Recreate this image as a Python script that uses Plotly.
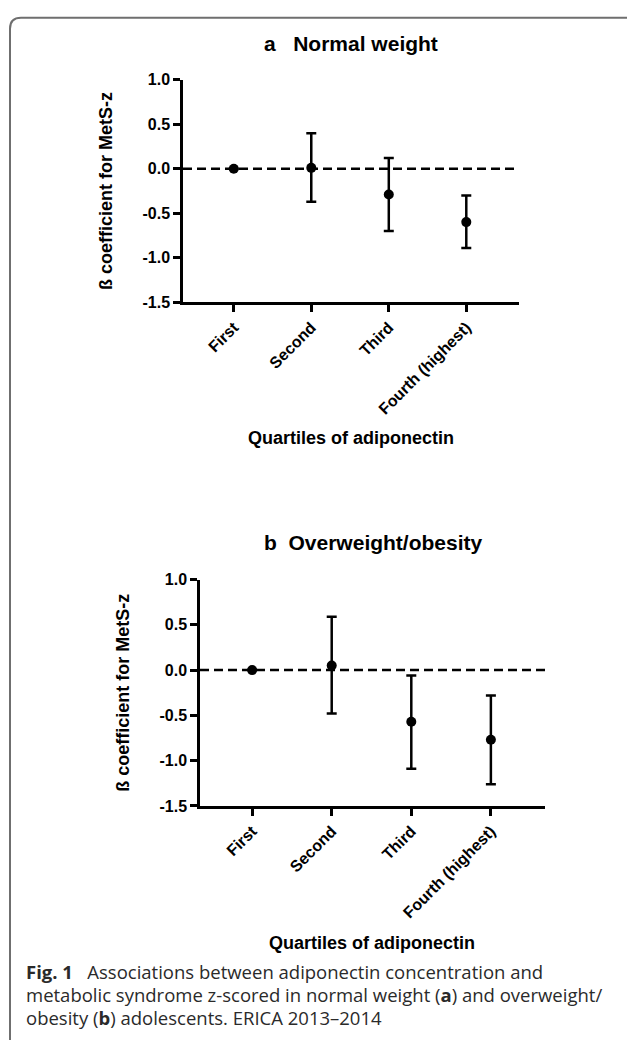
import plotly.graph_objects as go

# ---------------- data ----------------
quartiles = ["First", "Second", "Third", "Fourth (highest)"]

# panel a: normal weight
beta_a = [0.0, 0.01, -0.29, -0.60]
upper_a = [0.0, 0.40, 0.12, -0.30]
lower_a = [0.0, -0.37, -0.70, -0.89]

# panel b: overweight / obesity
beta_b = [0.0, 0.05, -0.57, -0.77]
upper_b = [0.0, 0.59, -0.06, -0.28]
lower_b = [0.0, -0.48, -1.09, -1.26]

y_tick_vals = [1.0, 0.5, 0.0, -0.5, -1.0, -1.5]
y_tick_text = ["1.0", "0.5", "0.0", "-0.5", "-1.0", "-1.5"]

title_a = "a\u00a0\u00a0\u00a0Normal weight"
title_b = "b\u00a0\u00a0Overweight/obesity"
y_title = "ß coefficient for MetS-z"
x_title = "Quartiles of adiponectin"
caption_lines = [
    "<b>Fig. 1</b>\u00a0\u00a0\u00a0Associations between adiponectin concentration and",
    "metabolic syndrome z-scored in normal weight (<b>a</b>) and overweight/",
    "obesity (<b>b</b>) adolescents. ERICA 2013\u20132014",
]

# ---------------- layout helpers ----------------
W, H = 627, 1052
def fx(px):
    return px / W
def fy(py):
    return 1 - py / H

FONT = "Liberation Sans, Arial, sans-serif"
CAP_FONT = "Open Sans, Noto Sans, sans-serif"

fig = go.Figure()

def add_panel(beta, upper, lower, xa, ya):
    plus = [u - b for u, b in zip(upper, beta)]
    minus = [b - l for b, l in zip(beta, lower)]
    fig.add_trace(go.Scatter(
        x=quartiles, y=beta, mode="markers",
        marker=dict(color="black", size=10),
        error_y=dict(type="data", symmetric=False, array=plus, arrayminus=minus,
                     color="black", thickness=2.5, width=5),
        xaxis=xa, yaxis=ya, showlegend=False, cliponaxis=False,
    ))

add_panel(beta_a, upper_a, lower_a, "x", "y")
add_panel(beta_b, upper_b, lower_b, "x2", "y2")

xcommon = dict(type="category", categoryorder="array", categoryarray=quartiles,
               range=[-0.655, 3.68], showline=True, linecolor="black", linewidth=2.5,
               ticks="outside", ticklen=7, tickwidth=2.5, tickcolor="black",
               tickangle=-45, showgrid=False, zeroline=False,
               tickfont=dict(family=FONT, size=16, color="black", weight="bold"))
ycommon = dict(range=[-1.5, 1.0], tickmode="array", tickvals=y_tick_vals, ticktext=y_tick_text,
               showline=True, linecolor="black", linewidth=2.5,
               ticks="outside", ticklen=7, tickwidth=2.5, tickcolor="black",
               showgrid=False, zeroline=False,
               tickfont=dict(family=FONT, size=16, color="black", weight="bold"))

fig.update_layout(
    width=W, height=H,
    margin=dict(l=0, r=0, t=0, b=0),
    paper_bgcolor="white", plot_bgcolor="white",
    xaxis=dict(domain=[fx(183), fx(519)], anchor="y", **xcommon),
    yaxis=dict(domain=[fy(299), fy(73)], anchor="x", **ycommon),
    xaxis2=dict(domain=[fx(200), fx(545)], anchor="y2", **xcommon),
    yaxis2=dict(domain=[fy(811), fy(581)], anchor="x2", **ycommon),
)

# dashed reference lines at zero
for xr, yr in (("x domain", "y"), ("x2 domain", "y2")):
    fig.add_shape(type="line", xref=xr, yref=yr, x0=0, x1=1, y0=0, y1=0,
                  line=dict(color="black", width=2.5, dash="9px,5px"), layer="below")

# frame (rounded top-left corner)
r = 11
path = (f"M {fx(10)},{fy(1049)} L {fx(10)},{fy(10 + r)} "
        f"Q {fx(10)},{fy(10)} {fx(10 + r)},{fy(10)} L {fx(630)},{fy(10)}")
fig.add_shape(type="path", xref="paper", yref="paper", path=path,
              line=dict(color="#6f6f6f", width=2))

ann = []
# panel titles
ann.append(dict(text=f"<b>{title_a}</b>", x=fx(351), y=fy(36), xref="paper", yref="paper",
                xanchor="center", yanchor="middle", showarrow=False,
                font=dict(family=FONT, size=21, color="black")))
ann.append(dict(text=f"<b>{title_b}</b>", x=fx(373), y=fy(543), xref="paper", yref="paper",
                xanchor="center", yanchor="middle", showarrow=False,
                font=dict(family=FONT, size=21, color="black")))
# y titles
for xc, yc in ((106, 186), (123, 696)):
    ann.append(dict(text=f"<b>{y_title}</b>", x=fx(xc), y=fy(yc), xref="paper", yref="paper",
                    xanchor="center", yanchor="middle", textangle=-90, showarrow=False,
                    font=dict(family=FONT, size=18, color="black")))
# x titles
for xc, yc in ((351, 437), (372, 950)):
    ann.append(dict(text=f"<b>{x_title}</b>", x=fx(xc), y=fy(yc), xref="paper", yref="paper",
                    xanchor="center", yanchor="middle", showarrow=False,
                    font=dict(family=FONT, size=18, color="black")))
# caption
for line, yc in zip(caption_lines, (979, 1003, 1026)):
    ann.append(dict(text=line, x=fx(24), y=fy(yc), xref="paper", yref="paper",
                    xanchor="left", yanchor="middle", showarrow=False, align="left",
                    font=dict(family=CAP_FONT, size=18.5, color="#2a2a2a")))
fig.update_layout(annotations=ann)

fig.write_html(
    "out.html",
    config={"displayModeBar": False},
    post_script="document.body.style.margin='0';document.body.style.overflow='hidden';",
)
